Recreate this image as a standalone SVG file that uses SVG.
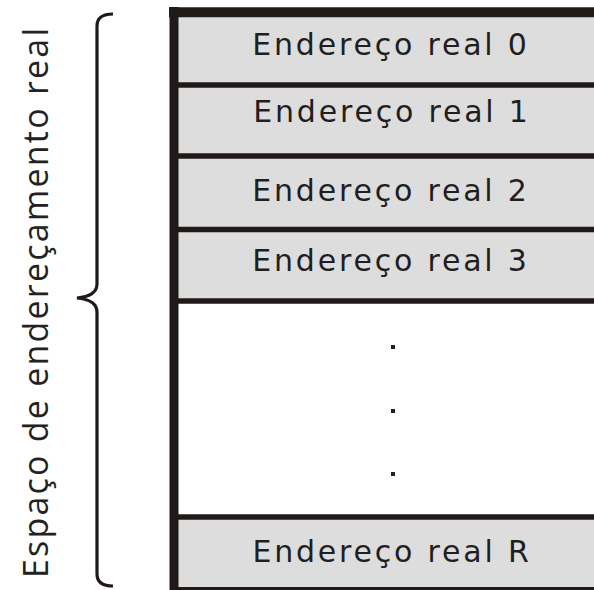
<svg xmlns="http://www.w3.org/2000/svg" width="594" height="590" viewBox="0 0 594 590">
  <style>
    .cell { fill: #dddddd; }
    .blank { fill: #ffffff; }
    .rule { stroke: #1f1a17; stroke-linecap: butt; fill: none; }
    .lbl { font-family: "DejaVu Sans", Verdana, sans-serif; font-size: 30px; fill: #1f1f1f; letter-spacing: 2.8px; text-anchor: middle; }
    .dot { fill: #222222; }
    .side { font-family: "Open Sans", "Noto Sans", sans-serif; font-size: 34px; fill: #222222; }
  </style>
  <rect width="594" height="590" fill="#ffffff"/>

  <!-- memory cells -->
  <g id="addr0">
    <rect class="cell" x="174" y="12" width="420" height="73"/>
    <text class="lbl" x="391" y="55">Endereço real 0</text>
  </g>
  <g id="addr1">
    <rect class="cell" x="174" y="85" width="420" height="71"/>
    <text class="lbl" x="392" y="122">Endereço real 1</text>
  </g>
  <g id="addr2">
    <rect class="cell" x="174" y="156" width="420" height="74"/>
    <text class="lbl" x="391" y="201">Endereço real 2</text>
  </g>
  <g id="addr3">
    <rect class="cell" x="174" y="230" width="420" height="71"/>
    <text class="lbl" x="391" y="271">Endereço real 3</text>
  </g>
  <g id="gap">
    <rect class="blank" x="174" y="301" width="420" height="216"/>
    <rect class="dot" x="391" y="345" width="4" height="4"/>
    <rect class="dot" x="391" y="409" width="4" height="4"/>
    <rect class="dot" x="391" y="472" width="4" height="4"/>
  </g>
  <g id="addrR">
    <rect class="cell" x="174" y="517" width="420" height="73"/>
    <text class="lbl" x="392" y="562">Endereço real R</text>
  </g>

  <!-- cell borders -->
  <g id="borders" class="rule">
    <line x1="169" y1="12.3" x2="594" y2="12.3" stroke-width="10"/>
    <line x1="174" y1="85" x2="594" y2="85" stroke-width="5.5"/>
    <line x1="174" y1="156" x2="594" y2="156" stroke-width="5.5"/>
    <line x1="174" y1="229.5" x2="594" y2="229.5" stroke-width="5.5"/>
    <line x1="174" y1="301" x2="594" y2="301" stroke-width="5.5"/>
    <line x1="174" y1="517" x2="594" y2="517" stroke-width="5.5"/>
    <line x1="174" y1="590" x2="594" y2="590" stroke-width="6"/>
    <line x1="174" y1="7" x2="174" y2="590" stroke-width="9"/>
  </g>

  <!-- brace spanning the address space -->
  <g id="brace">
    <path class="rule" stroke-width="3.2" d="M113,14 Q97,14 97,26 L97,284 Q97,296 77,298 Q97,300 97,312 L97,574 Q97,586 113,586"/>
  </g>

  <g id="label">
    <text class="side" transform="translate(48,578) rotate(-90)" textLength="550" lengthAdjust="spacing">Espaço de endereçamento real</text>
  </g>
</svg>
